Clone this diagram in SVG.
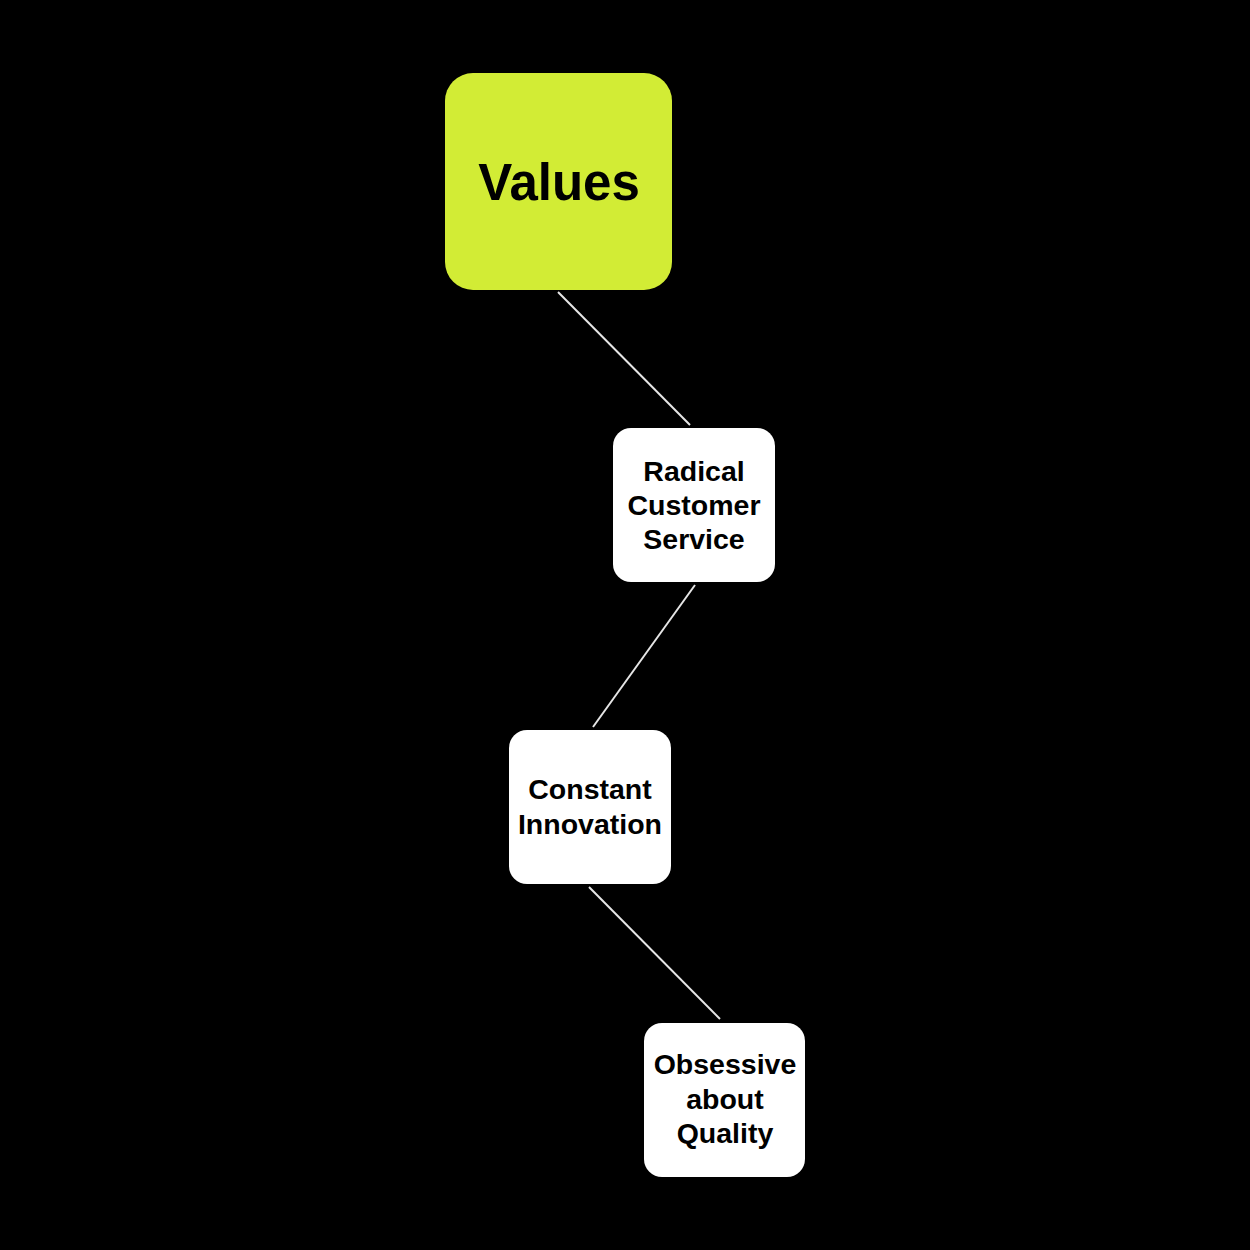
<svg xmlns="http://www.w3.org/2000/svg" width="1250" height="1250" viewBox="0 0 1250 1250">
<style>
.box{fill:#ffffff;}
.lbl{font-family:"Liberation Sans",Arial,sans-serif;font-weight:bold;font-size:28.5px;fill:#000;text-anchor:middle;}
.conn{stroke:#e6e6e6;stroke-width:2;fill:none;}
</style>
<rect x="0" y="0" width="1250" height="1250" fill="#000"/>
<g id="connectors">
<line class="conn" x1="558" y1="292" x2="690" y2="425"/>
<line class="conn" x1="695" y1="585" x2="593" y2="727"/>
<line class="conn" x1="589" y1="887" x2="720" y2="1019"/>
</g>
<g id="values">
<rect x="445" y="73" width="227" height="217" rx="28" fill="#d2ec35"/>
<text x="559" y="200" font-family="'Liberation Sans',Arial,sans-serif" font-weight="bold" font-size="51" text-anchor="middle" fill="#000">Values</text>
</g>
<g id="radical">
<rect class="box" x="613" y="428" width="162" height="154" rx="18"/>
<text class="lbl" x="694" y="481">Radical</text>
<text class="lbl" x="694" y="515">Customer</text>
<text class="lbl" x="694" y="549">Service</text>
</g>
<g id="constant">
<rect class="box" x="509" y="730" width="162" height="154" rx="18"/>
<text class="lbl" x="590" y="799">Constant</text>
<text class="lbl" x="590" y="834">Innovation</text>
</g>
<g id="obsessive">
<rect class="box" x="644" y="1023" width="161" height="154" rx="18"/>
<text class="lbl" x="725" y="1074">Obsessive</text>
<text class="lbl" x="725" y="1109">about</text>
<text class="lbl" x="725" y="1143">Quality</text>
</g>
</svg>
